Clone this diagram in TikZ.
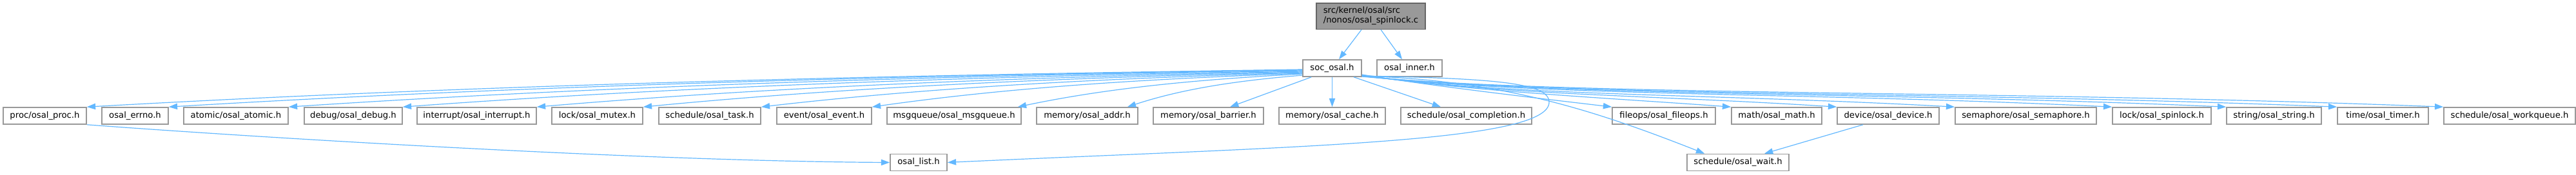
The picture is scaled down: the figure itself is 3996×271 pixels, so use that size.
\documentclass[tikz,border=0pt]{standalone}
\usepackage{fontspec}
\setmainfont{DejaVu Sans}
\usetikzlibrary{arrows.meta}
\definecolor{edgeblue}{HTML}{63B8FF}
\definecolor{boxborder}{HTML}{999999}
\definecolor{topfill}{HTML}{999999}
\definecolor{topborder}{HTML}{666666}
\begin{document}
\begin{tikzpicture}[x=1pt,y=-1pt,
  hbox/.style={draw=boxborder, line width=1.6pt, fill=white, inner sep=0pt, minimum height=26pt, font=\fontsize{13.2}{15}\selectfont, text=black},
  topbox/.style={hbox, fill=topfill, draw=topborder, minimum height=40.6pt, align=left},
  edge/.style={draw=edgeblue, line width=1.2pt, -{Triangle[length=13.3pt,width=9.3pt]}}]
\useasboundingbox (0,0) rectangle (3996,271);
% top
\node[topbox, minimum width=169pt] (top) at (2126.5,25) {src/kernel/osal/src\\/nonos/osal\_spinlock.c};
% row 1
\node[hbox, minimum width=91pt] (soc) at (2066.5,106) {soc\_osal.h};
\node[hbox, minimum width=101pt] (inner) at (2186.5,106) {osal\_inner.h};
% row 2
\node[hbox, minimum width=129pt] (proc) at (69.5,180) {proc/osal\_proc.h};
\node[hbox, minimum width=103pt] (errno) at (209.5,180) {osal\_errno.h};
\node[hbox, minimum width=162pt] (atomic) at (366,180) {atomic/osal\_atomic.h};
\node[hbox, minimum width=152pt] (debug) at (548,180) {debug/osal\_debug.h};
\node[hbox, minimum width=185pt] (intr) at (739.5,180) {interrupt/osal\_interrupt.h};
\node[hbox, minimum width=141pt] (mutex) at (926.5,180) {lock/osal\_mutex.h};
\node[hbox, minimum width=158pt] (task) at (1101,180) {schedule/osal\_task.h};
\node[hbox, minimum width=147pt] (event) at (1278.5,180) {event/osal\_event.h};
\node[hbox, minimum width=208pt] (msgq) at (1480,180) {msgqueue/osal\_msgqueue.h};
\node[hbox, minimum width=157pt] (addr) at (1686.5,180) {memory/osal\_addr.h};
\node[hbox, minimum width=171pt] (barrier) at (1874.5,180) {memory/osal\_barrier.h};
\node[hbox, minimum width=165pt] (cache) at (2066.5,180) {memory/osal\_cache.h};
\node[hbox, minimum width=203pt] (compl) at (2274.5,180) {schedule/osal\_completion.h};
\node[hbox, minimum width=160pt] (fileops) at (2581,180) {fileops/osal\_fileops.h};
\node[hbox, minimum width=140pt] (math) at (2756,180) {math/osal\_math.h};
\node[hbox, minimum width=158pt] (device) at (2929,180) {device/osal\_device.h};
\node[hbox, minimum width=219pt] (sema) at (3142.5,180) {semaphore/osal\_semaphore.h};
\node[hbox, minimum width=153pt] (spin) at (3353.5,180) {lock/osal\_spinlock.h};
\node[hbox, minimum width=147pt] (string) at (3527.5,180) {string/osal\_string.h};
\node[hbox, minimum width=141pt] (timer) at (3696.5,180) {time/osal\_timer.h};
\node[hbox, minimum width=204pt] (wq) at (3893,180) {schedule/osal\_workqueue.h};
% row 3
\node[hbox, minimum width=88pt] (list) at (1425,252.5) {osal\_list.h};
\node[hbox, minimum width=158pt] (wait) at (2696,252.5) {schedule/osal\_wait.h};
% edges from top
\draw[edge] ([xshift=-14.5pt]top.south) -- ([xshift=10.5pt]soc.north);
\draw[edge] ([xshift=15.5pt]top.south) -- ([xshift=-11.5pt]inner.north);
% left edges
\draw[edge] ([yshift=-2pt]soc.west) .. controls +(-629,8.9) and +(629,-35.4) .. (proc.north east);
\draw[edge] ([yshift=-2.5pt]soc.west) .. controls +(-587,8.8) and +(587,-35.1) .. (errno.north east);
\draw[edge] ([yshift=-3pt]soc.west) .. controls +(-525,8.7) and +(525,-34.8) .. (atomic.north east);
\draw[edge] ([yshift=-4pt]soc.west) .. controls +(-466,8.6) and +(466,-34.2) .. (debug.north east);
\draw[edge] ([yshift=-5pt]soc.west) .. controls +(-396,8.4) and +(396,-33.6) .. (intr.north east);
\draw[edge] ([yshift=-6pt]soc.west) .. controls +(-341,8.3) and +(341,-33) .. (mutex.north east);
\draw[edge] ([yshift=-7pt]soc.west) .. controls +(-280,8.1) and +(280,-32.4) .. (task.north east);
\draw[edge] ([yshift=-8pt]soc.west) .. controls +(-223,8) and +(223,-31.8) .. (event.north east);
\draw[edge] ([yshift=-9pt]soc.west) .. controls +(-148,7.8) and +(148,-31.2) .. ([xshift=-6pt]msgq.north east);
\draw[edge] ([yshift=-11pt]soc.west) .. controls +(-91,7.5) and +(91,-30) .. ([xshift=-17pt]addr.north east);
\draw[edge] ([xshift=14pt]soc.south west) -- ([xshift=33.5pt]barrier.north);
\draw[edge] (soc.south) -- (cache.north);
\draw[edge] ([xshift=33.5pt]soc.south) -- ([xshift=-39.5pt]compl.north);
% right edges
\draw[edge] ([yshift=-10pt]soc.east) .. controls +(118,19) and +(-101,-12) .. (fileops.north west);
\draw[edge] ([yshift=-10.5pt]soc.east) .. controls +(168,25.5) and +(-206,-15) .. (math.north west);
\draw[edge] ([yshift=-11pt]soc.east) .. controls +(218,31) and +(-300,-19) .. (device.north west);
\draw[edge] ([yshift=-11.5pt]soc.east) .. controls +(238,32.5) and +(-383,-21) .. (sema.north west);
\draw[edge] ([yshift=-12pt]soc.east) .. controls +(268,32) and +(-477,-23) .. (spin.north west);
\draw[edge] ([yshift=-12pt]soc.east) .. controls +(288,32) and +(-554,-24) .. (string.north west);
\draw[edge] ([yshift=-12.5pt]soc.east) .. controls +(308,31.5) and +(-626,-25) .. (timer.north west);
\draw[edge] ([yshift=-13pt]soc.east) .. controls +(338,31) and +(-691,-27) .. (wq.north west);
% loops to row 3
\draw[edge] ([yshift=-12pt]soc.east) .. controls (2330,122) and (2405,130) .. (2403,160) .. controls (2398,222) and (2000,228) .. (list.east);
\draw[edge] (proc.south east) .. controls +(266,20) and +(-381,-2) .. (list.west);
\draw[edge] ([yshift=-12pt]soc.east) .. controls (2330,125) and (2470,170) .. ([xshift=28pt]wait.north west);
\draw[edge] ([xshift=-39pt]device.south) -- ([xshift=41pt]wait.north);
\end{tikzpicture}
\end{document}
